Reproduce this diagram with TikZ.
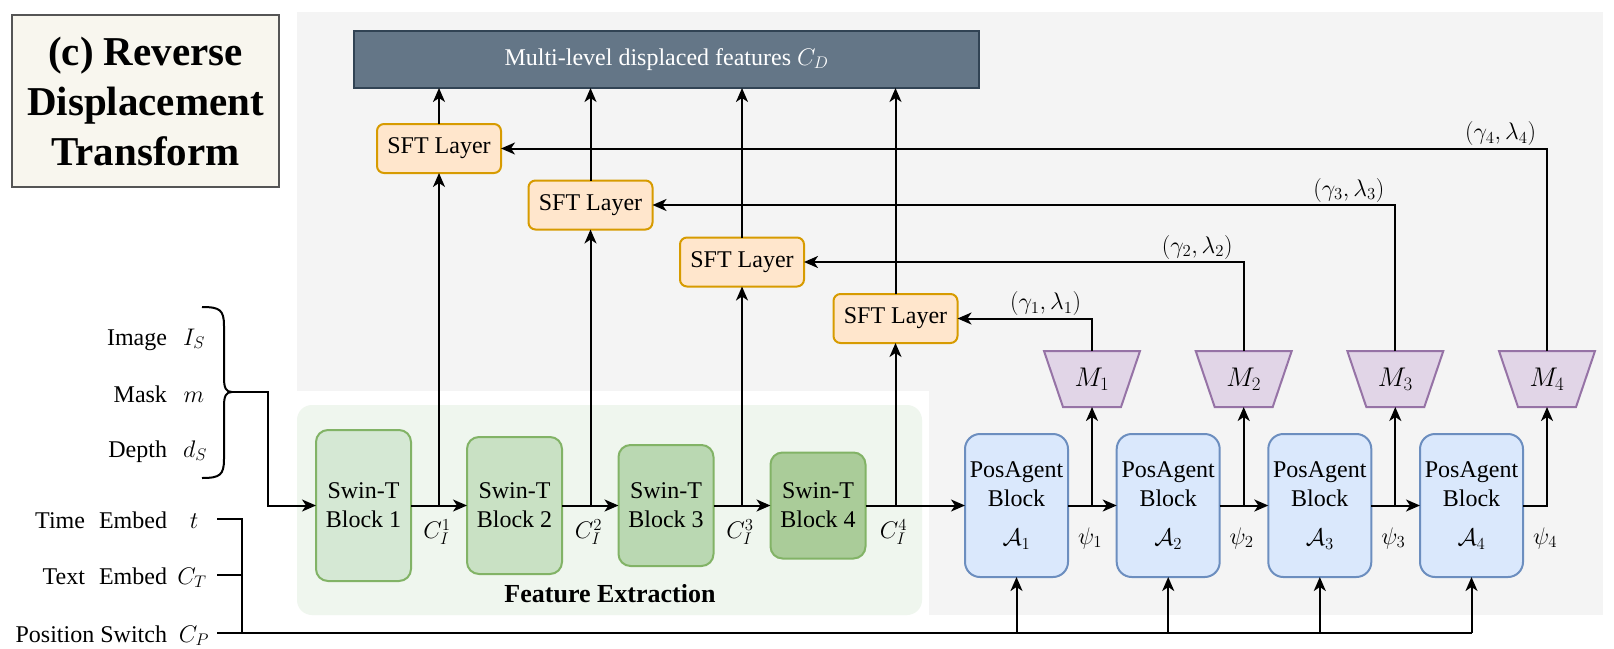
\RequirePackage{fix-cm}
\documentclass[tikz,border=0pt]{standalone}
\usepackage{fontspec}
\setmainfont{LiberationSerif}[Extension=.ttf,UprightFont=*-Regular,BoldFont=*-Bold,ItalicFont=*-Italic,BoldItalicFont=*-BoldItalic]
\usetikzlibrary{arrows.meta,calc}
\definecolor{bgG}{HTML}{F4F4F4}
\definecolor{feF}{HTML}{EFF6EE}
\definecolor{titleF}{HTML}{F8F6EE}
\definecolor{titleB}{HTML}{555555}
\definecolor{cdF}{HTML}{647687}
\definecolor{cdB}{HTML}{314354}
\definecolor{sftF}{HTML}{FFE6CC}
\definecolor{sftB}{HTML}{D79B00}
\definecolor{posF}{HTML}{DAE8FC}
\definecolor{posB}{HTML}{6C8EBF}
\definecolor{mF}{HTML}{E1D5E7}
\definecolor{mB}{HTML}{9673A6}
\definecolor{swinB}{HTML}{82B366}
\definecolor{swinA}{HTML}{D5E8D4}
\definecolor{swinBb}{HTML}{C9E1C4}
\definecolor{swinC}{HTML}{BAD8B2}
\definecolor{swinD}{HTML}{AACC99}
\begin{document}
\begin{tikzpicture}[x=1pt,y=-1pt,
  every node/.style={inner sep=0pt, outer sep=0pt},
  txt/.style={font=\fontsize{24}{29}\selectfont},
  ln/.style={line width=2pt, draw=black},
  arr/.style={ln, -{Stealth[length=14pt,width=12pt,inset=4pt]}},
  swin/.style={draw=swinB, line width=2pt, rounded corners=12pt, minimum width=95pt, align=center, txt},
  posblk/.style={draw=posB, fill=posF, line width=2pt, rounded corners=15pt, minimum width=103pt, minimum height=143pt, align=center, txt},
  sftblk/.style={draw=sftB, fill=sftF, line width=2pt, rounded corners=7pt, minimum width=124pt, minimum height=49pt, txt},
  mst/.style={draw=mB, fill=mF, line width=2pt},
  gl/.style={txt, anchor=south east}
]
\useasboundingbox (0,0) rectangle (1614,648);
% backgrounds
\fill[bgG] (297,12) rectangle (1603,615);
\fill[white] (297,391) rectangle (929,616);
\fill[feF, rounded corners=15pt] (297,405) rectangle (922,615);
\node (fe) [font=\fontsize{26}{30}\selectfont\bfseries] at (610,594) {Feature Extraction};

% title
\node (title) [draw=titleB, fill=titleF, line width=2pt, minimum width=267pt, minimum height=172pt,
  align=center, font=\fontsize{41}{50}\selectfont\bfseries] at (145.5,101)
  {(c) Reverse\\Displacement\\Transform};

% output bar
\node (cd) [fill=cdF, draw=cdB, line width=2pt, minimum width=625pt, minimum height=57pt,
  text=white, txt] at (666.5,59.5) {Multi-level displaced features $C_D$};

% SFT layers
\node (sft1) [sftblk] at (439,148.5) {SFT Layer};
\node (sft2) [sftblk] at (590.5,205) {SFT Layer};
\node (sft3) [sftblk] at (742,262) {SFT Layer};
\node (sft4) [sftblk] at (895.5,318.5) {SFT Layer};

% Swin blocks
\node (s1) [swin, fill=swinA, minimum height=151pt] at (363.5,505.5) {Swin-T\\Block 1};
\node (s2) [swin, fill=swinBb, minimum height=137pt] at (514.5,505.5) {Swin-T\\Block 2};
\node (s3) [swin, fill=swinC, minimum height=121pt] at (666,505.5) {Swin-T\\Block 3};
\node (s4) [swin, fill=swinD, minimum height=106pt] at (818,505.5) {Swin-T\\Block 4};

% PosAgent blocks
\node (a1) [posblk] at (1016.5,505.5) {PosAgent\\Block\\[10pt]$\mathcal{A}_1$};
\node (a2) [posblk] at (1168.2,505.5) {PosAgent\\Block\\[10pt]$\mathcal{A}_2$};
\node (a3) [posblk] at (1319.8,505.5) {PosAgent\\Block\\[10pt]$\mathcal{A}_3$};
\node (a4) [posblk] at (1471.5,505.5) {PosAgent\\Block\\[10pt]$\mathcal{A}_4$};

% M trapezoids
\foreach \i/\x in {1/1092,2/1243.7,3/1395.3,4/1547} {
  \draw[mst] (\x-48,351) -- (\x+48,351) -- (\x+29,407) -- (\x-29,407) -- cycle;
  \node (m\i) [minimum width=96pt, minimum height=56pt, font=\fontsize{27}{32}\selectfont] at (\x,379) {$M_\i$};
}

% left inputs
\node (limg) [txt, anchor=base east] at (167,345) {Image};
\node (vimg) [txt, anchor=base] at (194,345) {$I_S$};
\node (lmask) [txt, anchor=base east] at (167,402) {Mask};
\node (vmask) [txt, anchor=base] at (194,402) {$m$};
\node (ldep) [txt, anchor=base east] at (167,457) {Depth};
\node (vdep) [txt, anchor=base] at (195,457) {$d_S$};
\node (ltime) [txt, anchor=base east] at (167,528) {Time\hspace{14pt}Embed};
\node (vtime) [txt, anchor=base] at (194,528) {$t$};
\node (ltext) [txt, anchor=base east] at (167,584) {Text\hspace{14pt}Embed};
\node (vtext) [txt, anchor=base] at (192,584) {$C_T$};
\node (lpos) [txt, anchor=base east] at (167,642) {Position Switch};
\node (vpos) [txt, anchor=base] at (194,642) {$C_P$};

% brace
\draw[ln] (202,307) .. controls (220,307) and (224,310) .. (224,326) -- (224,378)
  .. controls (224,388) and (226,392) .. (232,392);
\draw[ln] (202,478) .. controls (220,478) and (224,475) .. (224,459) -- (224,406)
  .. controls (224,396) and (226,392) .. (232,392);
\coordinate (brt) at (231,392);
\draw[arr] (brt) -- (268,392) |- (s1.west);

% condition bus
\coordinate (tE) at (217,519);
\coordinate (tT) at (217,575);
\coordinate (tP) at (217,633);
\coordinate (bus) at (242,633);
\draw[ln] (tE) -- (bus |- tE) -- (bus);
\draw[ln] (tT) -- (bus |- tT);
\draw[ln] (tP) -- (a4.south |- tP);
\foreach \i in {1,2,3,4} { \draw[arr] (a\i.south |- tP) -- (a\i.south); }

% main chain
\draw[arr] (s1.east) -- (s2.west);
\draw[arr] (s2.east) -- (s3.west);
\draw[arr] (s3.east) -- (s4.west);
\draw[arr] (s4.east) -- (a1.west);
\draw[arr] (a1.east) -- (a2.west);
\draw[arr] (a2.east) -- (a3.west);
\draw[arr] (a3.east) -- (a4.west);

% Swin branches to SFT and SFT to output
\draw[arr] (s1.east -| sft1.south) -- (sft1.south);
\draw[arr] (s2.east -| sft2.south) -- (sft2.south);
\draw[arr] (s3.east -| sft3.south) -- (sft3.south);
\draw[arr] (s4.east -| sft4.south) -- (sft4.south);
\foreach \i in {1,2,3,4} { \draw[arr] (sft\i.north) -- (sft\i.north |- cd.south); }

% C_I labels
\node (ci1) [txt] at (437,532) {$C_I^1$};
\node (ci2) [txt] at (588.5,532) {$C_I^2$};
\node (ci3) [txt] at (740,532) {$C_I^3$};
\node (ci4) [txt] at (893.5,532) {$C_I^4$};

% PosAgent branches to M
\draw[arr] (a1.east -| m1.south) -- (m1.south);
\draw[arr] (a2.east -| m2.south) -- (m2.south);
\draw[arr] (a3.east -| m3.south) -- (m3.south);
\draw[arr] (a4.east) -| (m4.south);

% psi labels
\node (psi1) [txt] at (1090,538) {$\psi_1$};
\node (psi2) [txt] at (1241.7,538) {$\psi_2$};
\node (psi3) [txt] at (1393.3,538) {$\psi_3$};
\node (psi4) [txt] at (1545,538) {$\psi_4$};

% modulation back to SFT
\draw[arr] (m1.north) |- (sft4.east);
\draw[arr] (m2.north) |- (sft3.east);
\draw[arr] (m3.north) |- (sft2.east);
\draw[arr] (m4.north) |- (sft1.east);
\node (g1) [gl] at ($(m1.north |- sft4.east)+(-11,-3)$) {$(\gamma_1,\lambda_1)$};
\node (g2) [gl] at ($(m2.north |- sft3.east)+(-11,-3)$) {$(\gamma_2,\lambda_2)$};
\node (g3) [gl] at ($(m3.north |- sft2.east)+(-11,-3)$) {$(\gamma_3,\lambda_3)$};
\node (g4) [gl] at ($(m4.north |- sft1.east)+(-11,-3)$) {$(\gamma_4,\lambda_4)$};
\end{tikzpicture}
\end{document}
